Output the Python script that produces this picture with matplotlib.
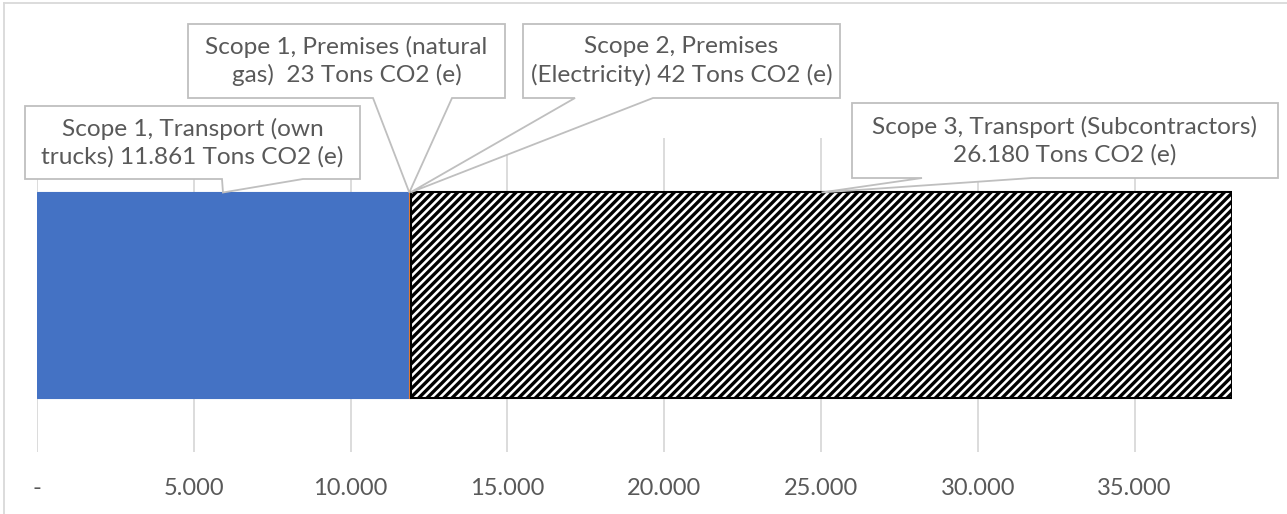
import matplotlib.pyplot as plt
from matplotlib.patches import Polygon
from matplotlib.lines import Line2D
from matplotlib.ticker import FuncFormatter

# Data (Tons CO2 (e))
segments = ['Scope 1, Transport (own trucks)',
            'Scope 1, Premises (natural gas)',
            'Scope 2, Premises (Electricity)',
            'Scope 3, Transport (Subcontractors)']
values = [11861, 23, 42, 26180]
callout_texts = ['Scope 1, Transport (own\ntrucks) 11.861 Tons CO2 (e)',
                 'Scope 1, Premises (natural\ngas)  23 Tons CO2 (e)',
                 'Scope 2, Premises\n(Electricity) 42 Tons CO2 (e)',
                 'Scope 3, Transport (Subcontractors)\n26.180 Tons CO2 (e)']
tick_values = [0, 5000, 10000, 15000, 20000, 25000, 30000, 35000]

W, H = 1287, 514
plt.rcParams['font.family'] = ['Lato', 'DejaVu Sans']
plt.rcParams['hatch.linewidth'] = 2.4
plt.rcParams['hatch.color'] = 'black'

fig = plt.figure(figsize=(W / 100, H / 100), dpi=100)
# axes box in reference pixels: x 37..1232, y 138..452
ax = fig.add_axes([37 / W, 1 - 452 / H, (1232 - 37) / W, (452 - 138) / H])

colors = ['#4472C4', '#ED7D31', '#A5A5A5', 'white']
left = 0
starts = []
for i, v in enumerate(values):
    if i == 3:
        ax.barh(0, v, left=left, height=0.653, color='white', hatch='////',
                edgecolor='black', linewidth=1.5, zorder=3)
    else:
        ax.barh(0, v, left=left, height=0.653, color=colors[i],
                edgecolor=colors[i], linewidth=0.8, zorder=3)
    starts.append(left)
    left += v

ax.set_xlim(0, sum(values))
ax.set_ylim(-0.5, 0.5)
ax.set_yticks([])
ax.set_xticks(tick_values)
ax.xaxis.set_major_formatter(FuncFormatter(
    lambda x, p: '-' if x == 0 else f'{int(x):,}'.replace(',', '.')))
ax.tick_params(axis='x', length=0, pad=19, labelsize=17, labelcolor='#595959')
ax.grid(axis='x', color='#D9D9D9', linewidth=1.3, zorder=0)
for s in ax.spines.values():
    s.set_visible(False)

# callout boxes (reference pixels, top-left origin): x0, x1, ytop, ybot, wedge-left, wedge-right
boxes = [(25, 360, 106, 179, 222, 303),
         (188, 505, 24, 98, 373, 452),
         (523, 840, 24, 98, 575, 653),
         (852, 1278, 103, 178, 922, 1032)]

inv = fig.transFigure.inverted()
for i, (x0, x1, yt, yb, wl, wr) in enumerate(boxes):
    mid = starts[i] + values[i] / 2
    tx, ty = inv.transform(ax.transData.transform((mid, 0.3265)))
    pts = [(x0 / W, 1 - yt / H), (x1 / W, 1 - yt / H), (x1 / W, 1 - yb / H),
           (wr / W, 1 - yb / H), (tx, ty), (wl / W, 1 - yb / H), (x0 / W, 1 - yb / H)]
    fig.patches.append(Polygon(pts, closed=True, facecolor='white', edgecolor='#BFBFBF',
                               linewidth=1.3, transform=fig.transFigure, zorder=5))
    fig.text((x0 + x1) / 2 / W, 1 - (yt + yb) / 2 / H, callout_texts[i],
             ha='center', va='center', fontsize=17.6, color='#595959',
             linespacing=1.35, zorder=6)

# outer chart frame (left and top edges visible)
fig.add_artist(Line2D([4 / W, 4 / W], [0, 1 - 3 / H], color='#D9D9D9', linewidth=1.3,
                      transform=fig.transFigure))
fig.add_artist(Line2D([4 / W, 1], [1 - 3 / H, 1 - 3 / H], color='#D9D9D9', linewidth=1.3,
                      transform=fig.transFigure))

fig.savefig('out.png', dpi=100)
